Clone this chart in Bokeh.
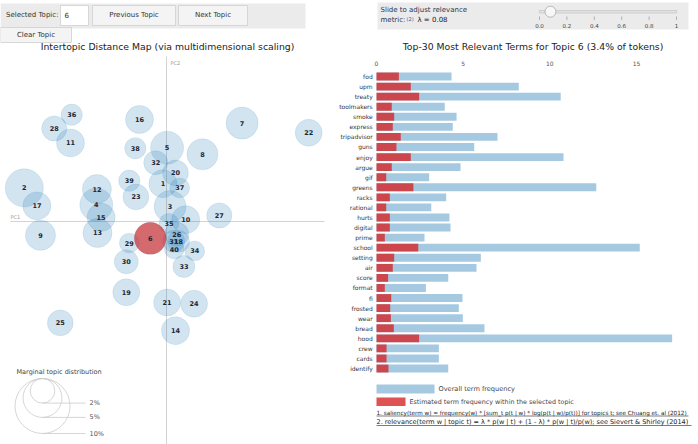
import numpy as np
from bokeh.plotting import figure
from bokeh.models import Range1d, ColumnDataSource
from bokeh.core.properties import value
from bokeh.embed import file_html
from bokeh.resources import INLINE

# ---------------- data ----------------
# Intertopic distance map: MDS coordinates and marginal share (% of tokens)
topics = list(range(1, 41))
pc1 = [-0.006, -0.237, 0.006, -0.117, 0.001, -0.027, 0.126, 0.060, -0.210, 0.032,
       -0.160, -0.116, -0.115, 0.015, -0.109, -0.045, -0.216, 0.020, -0.067, 0.015,
       0.001, 0.237, -0.051, 0.046, -0.177, 0.017, 0.088, -0.187, -0.062, -0.067,
       0.012, -0.018, 0.029, 0.047, 0.004, -0.158, 0.022, -0.052, -0.062, 0.013]
pc2 = [0.063, 0.056, 0.025, 0.028, 0.123, -0.028, 0.164, 0.112, -0.023, 0.003,
       0.131, 0.054, -0.019, -0.182, 0.007, 0.170, 0.026, -0.033, -0.118, 0.081,
       -0.135, 0.148, 0.041, -0.137, -0.169, -0.021, 0.010, 0.155, -0.036, -0.067,
       -0.033, 0.098, -0.075, -0.049, -0.003, 0.178, 0.056, 0.122, 0.068, -0.046]
topic_share = [2.6, 4.8, 3.4, 3.6, 3.6, 3.4, 3.4, 3.2, 3.0, 2.6,
               2.6, 2.8, 2.8, 2.6, 2.6, 2.6, 2.6, 1.6, 2.4, 2.2,
               2.4, 2.4, 2.2, 2.4, 2.2, 1.9, 2.1, 2.1, 1.3, 1.9,
               1.6, 1.9, 1.6, 1.3, 1.3, 1.5, 1.3, 1.5, 1.5, 1.3]
selected_topic = 6
lambda_value = 0.08

# Top-30 most relevant terms for the selected topic
terms = ["fod", "upm", "treaty", "toolmakers", "smoke", "express", "tripadvisor",
         "guns", "enjoy", "argue", "gif", "greens", "racks", "rational", "hurts",
         "digital", "prime", "school", "setting", "air", "score", "format", "fi",
         "frosted", "wear", "bread", "hood", "crew", "cards", "identify"]
overall_freq = [4.33, 8.21, 10.63, 3.94, 4.62, 4.40, 6.98, 5.64, 10.79, 4.85,
                3.04, 12.68, 4.02, 3.16, 4.21, 4.27, 2.77, 15.19, 6.02, 5.77,
                4.14, 2.85, 4.96, 4.75, 4.98, 6.23, 17.06, 3.60, 3.60, 4.14]
topic_freq = [1.29, 1.98, 2.46, 0.88, 1.02, 0.94, 1.40, 1.15, 1.98, 0.88,
              0.56, 2.13, 0.77, 0.56, 0.77, 0.77, 0.48, 2.41, 1.02, 0.94,
              0.67, 0.48, 0.85, 0.79, 0.83, 1.00, 2.46, 0.58, 0.58, 0.69]
freq_ticks = [0, 5, 10, 15]
slider_ticks = [0.0, 0.2, 0.4, 0.6, 0.8, 1.0]
slider_tick_labels = ["0.0", "0.2", "0.4", "0.6", "0.8", "1"]
legend_shares = [2, 5, 10]
legend_labels = ["2%", "5%", "10%"]

# ---------------- layout constants (pixels) ----------------
W, H = 698, 444
MAP_OX, MAP_OY, MAP_SCALE = 166, 221, 600.0     # origin of PC1/PC2 and px per unit
R10 = 27.5                                       # screen radius of a 10% topic
BAR_X0, BAR_SCALE = 376, 17.33                   # x of zero frequency, px per unit
ROW0, ROW_STEP = 76, 10.07                       # first bar row, row spacing
SL_X0, SL_X1 = 539, 676                          # slider 0 and 1
FONT = value("DejaVu Sans")
BLUE, RED = "#1f77b4", "#d62728"

p = figure(width=W, height=H, x_range=Range1d(0, W), y_range=Range1d(H, 0),
           toolbar_location=None, output_backend="svg", min_border=0,
           x_axis_type=None, y_axis_type=None, outline_line_color=None,
           background_fill_color="white")
p.grid.visible = False

p.extra_x_ranges = {
    "pc1": Range1d(-MAP_OX / MAP_SCALE, (W - MAP_OX) / MAP_SCALE),
    "freq": Range1d(-BAR_X0 / BAR_SCALE, (W - BAR_X0) / BAR_SCALE),
    "lam": Range1d(-SL_X0 / (SL_X1 - SL_X0), (W - SL_X0) / (SL_X1 - SL_X0)),
}
p.extra_y_ranges = {
    "pc2": Range1d(-(H - MAP_OY) / MAP_SCALE, MAP_OY / MAP_SCALE),
    "rank": Range1d((H - ROW0) / ROW_STEP, -ROW0 / ROW_STEP),
}

def label(x, y, text, size="7px", align="left", color="#333333", style="normal", **kw):
    p.text(x=x, y=y, text=text, text_font=FONT, text_font_size=size,
           text_align=align, text_baseline="middle", text_color=color,
           text_font_style=style, **kw)

# ---------------- control panels ----------------
PANEL = "#ebebeb"
p.quad(left=[0, 377], right=[305, 688], top=[3, 2], bottom=[28, 29],
       fill_color=PANEL, line_color=None)
# buttons and topic input
p.quad(left=[60, 92, 178, 0], right=[88, 175, 247, 71], top=[5, 5, 5, 27],
       bottom=[25, 25, 25, 42], fill_color=["white", "#f4f4f4", "#f4f4f4", "#f4f4f4"],
       line_color="#cfcfcf", line_width=0.8)
label(58, 14.5, ["Selected Topic:"], align="right")
label(64, 14.5, [str(selected_topic)])
label(133.5, 14.5, ["Previous Topic"], align="center")
label(212.5, 14.5, ["Next Topic"], align="center")
label(35.5, 34.5, ["Clear Topic"], align="center")

# relevance slider
label(380, 9.5, ["Slide to adjust relevance"], color="#2a3550")
label(380, 19.5, ["metric:"], color="#2a3550")
label(406, 18, ["(2)"], size="5px", color="#3a5aa8")
label(417, 19.5, ["λ = %.2f" % lambda_value], color="#222222")
p.quad(left=0, right=1, top=10, bottom=12.5, x_range_name="lam",
       fill_color="#e2e2e2", line_color="#bdbdbd", line_width=0.6)
p.segment(x0=slider_ticks, x1=slider_ticks, y0=[16] * 6, y1=[19.5] * 6,
          x_range_name="lam", line_color="#999999", line_width=0.7)
label(slider_ticks, 24.5, slider_tick_labels, size="5.5px", align="center",
      color="#444444", x_range_name="lam")
p.scatter(x=[lambda_value], y=[11.2], size=11, x_range_name="lam",
          fill_color="#f7f7f7", line_color="#a8a8a8", line_width=0.8)

# ---------------- intertopic distance map ----------------
label(167, 45.5, ["Intertopic Distance Map (via multidimensional scaling)"],
      size="9.3px", align="center", color="#222222")
# PC axes
p.segment(x0=[10], x1=[324], y0=[0], y1=[0], y_range_name="pc2",
          line_color="#c8c8c8", line_width=0.8)
p.segment(x0=[0], x1=[0], y0=[56], y1=[H], x_range_name="pc1",
          line_color="#c8c8c8", line_width=0.8)
label(10, MAP_OY - 4.5, ["PC1"], size="5px", color="#999999")
label(MAP_OX + 4, 62, ["PC2"], size="5px", color="#999999")

share = np.array(topic_share)
sizes = 2 * R10 * np.sqrt(share / 10.0)
is_sel = np.array(topics) == selected_topic
src_all = ColumnDataSource(dict(x=pc1, y=pc2, size=sizes,
                                label=[str(t) for t in topics]))
p.scatter("x", "y", size="size", source=src_all, x_range_name="pc1",
          y_range_name="pc2", fill_color=BLUE, fill_alpha=0.2,
          line_color=BLUE, line_alpha=0.18, line_width=0.6)
src_sel = ColumnDataSource(dict(x=np.array(pc1)[is_sel], y=np.array(pc2)[is_sel],
                                size=sizes[is_sel]))
p.scatter("x", "y", size="size", source=src_sel, x_range_name="pc1",
          y_range_name="pc2", fill_color=RED, fill_alpha=0.65, line_color=None)
p.text("x", "y", text="label", source=src_all, x_range_name="pc1",
       y_range_name="pc2", text_font=FONT, text_font_size="6.5px",
       text_font_style="bold", text_align="center", text_baseline="middle",
       text_color="#1d2633")

# marginal topic distribution legend
label(16, 371, ["Marginal topic distribution"], size="6.5px", color="#444444")
leg_r = R10 * np.sqrt(np.array(legend_shares) / 10.0)
leg_top, leg_cx = 378, 42
p.scatter(x=[leg_cx] * 3, y=list(leg_top + leg_r), size=list(2 * leg_r),
          fill_color=None, line_color="#cccccc", line_width=0.8)
p.segment(x0=[leg_cx] * 3, x1=[85] * 3, y0=list(leg_top + 2 * leg_r),
          y1=list(leg_top + 2 * leg_r), line_color="#cccccc", line_width=0.8)
label([89] * 3, list(leg_top + 2 * leg_r), legend_labels, size="6.5px", color="#555555")

# ---------------- top-30 relevant terms ----------------
share_sel = share[is_sel][0]
label(532.5, 45.5, ["Top-30 Most Relevant Terms for Topic %d (%.1f%% of tokens)"
                    % (selected_topic, share_sel)],
      size="9.3px", align="center", color="#222222")
rank = list(range(len(terms)))
src_bar = ColumnDataSource(dict(rank=rank, term=terms, overall=overall_freq,
                                est=topic_freq))
p.hbar(y="rank", left=0, right="overall", height=0.78, source=src_bar,
       x_range_name="freq", y_range_name="rank", fill_color=BLUE,
       fill_alpha=0.4, line_color=None)
p.hbar(y="rank", left=0, right="est", height=0.78, source=src_bar,
       x_range_name="freq", y_range_name="rank", fill_color=RED,
       fill_alpha=0.8, line_color=None)
p.text(x=-0.22, y="rank", text="term", source=src_bar, x_range_name="freq",
       y_range_name="rank", text_font=FONT, text_font_size="6px",
       text_align="right", text_baseline="middle", text_color="#333333")
label(freq_ticks, 62.5, [str(t) for t in freq_ticks], size="6px", align="center",
      color="#555555", x_range_name="freq")

# bar legend
p.quad(left=[376, 376], right=[434, 405], top=[384, 397], bottom=[393, 405.5],
       fill_color=[BLUE, RED], fill_alpha=[0.4, 0.8], line_color=None)
label(438, 388.5, ["Overall term frequency"], size="6.6px", color="#444444")
label(409, 401.5, ["Estimated term frequency within the selected topic"],
      size="6.4px", color="#444444")

# footnotes (links)
notes = ["1. saliency(term w) = frequency(w) * [sum_t p(t | w) * log(p(t | w)/p(t))] "
         "for topics t; see Chuang et. al (2012)",
         "2. relevance(term w | topic t) = λ * p(w | t) + (1 - λ) * p(w | t)/p(w); "
         "see Sievert & Shirley (2014)"]
label([376], [412.5], notes[:1], size="5.7px", color="#222222")
label([376], [421.5], notes[1:], size="6.5px", color="#222222")
p.segment(x0=[376, 376], x1=[688, 691], y0=[415.5, 425], y1=[415.5, 425],
          line_color="#222222", line_width=0.6)

open("out.html", "w").write(file_html(p, INLINE))
